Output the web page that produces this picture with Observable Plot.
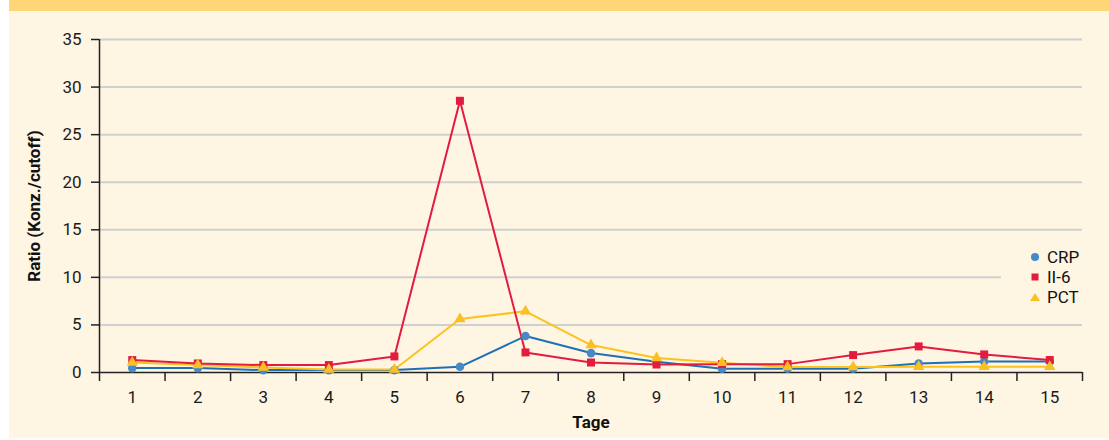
<!DOCTYPE html>
<html>
<head>
<meta charset="utf-8">
<script src="https://cdn.jsdelivr.net/npm/d3@7"></script>
<script src="https://cdn.jsdelivr.net/npm/@observablehq/plot@0.6"></script>
<style>
  html, body { margin: 0; padding: 0; background: #ffffff; }
  #wrap { position: relative; margin-left: 9px; width: 1100px; }
  #band { height: 11px; background: #ffd676; }
  #legend { position: absolute; left: 992px; top: 247px; width: 90px; background: #fef5e3;
            font-family: Roboto, sans-serif; font-size: 17px; color: #111; padding: 0 0 0 29px; box-sizing: border-box; }
  .row { height: 20px; display: flex; align-items: center; }
  .row svg { width: 10px; height: 10px; margin-right: 7px; flex: none; }
</style>
</head>
<body>
<div id="wrap">
  <div id="band"></div>
  <div id="chart"></div>
  <div id="legend"></div>
</div>
<script>
const days = [1,2,3,4,5,6,7,8,9,10,11,12,13,14,15];
const crp  = [0.46,0.46,0.25,0.25,0.25,0.60,3.83,2.04,1.13,0.39,0.39,0.39,0.95,1.16,1.16];
const il6  = [1.31,0.95,0.78,0.78,1.69,28.56,2.11,1.05,0.84,0.88,0.88,1.83,2.74,1.90,1.31];
const pct  = [1.05,0.78,0.53,0.32,0.32,5.63,6.43,2.88,1.52,1.02,0.57,0.57,0.60,0.60,0.60];
const seriesNames = ["CRP", "Il-6", "PCT"];
const legendLabels = ["CRP", "II-6", "PCT"];
const yTicks = [0,5,10,15,20,25,30,35];
const xBoundaries = [0.5,1.5,2.5,3.5,4.5,5.5,6.5,7.5,8.5,9.5,10.5,11.5,12.5,13.5,14.5,15.5];
const xLabel = "Tage";
const yLabel = "Ratio (Konz./cutoff)";

const colors = {
  CRP: {line: "#1f6fb4", mark: "#4589c8"},
  "Il-6": {line: "#e31b3f", mark: "#e31b3f"},
  PCT: {line: "#fcc21d", mark: "#fbbf22"}
};
const toRows = (vals, name) => days.map((d, i) => ({day: d, value: vals[i], series: name}));
const crpRows = toRows(crp, "CRP");
const il6Rows = toRows(il6, "Il-6");
const pctRows = toRows(pct, "PCT");

const chart = Plot.plot({
  width: 1100,
  height: 427,
  marginLeft: 90,
  marginRight: 27,
  marginTop: 28,
  marginBottom: 66,
  style: {background: "#fef5e3", fontFamily: "Roboto, sans-serif", fontSize: "17px", color: "#1a1a1a", overflow: "visible"},
  x: {type: "linear", domain: [0.5, 15.5]},
  y: {domain: [0, 35]},
  marks: [
    Plot.gridY(yTicks.filter(d => d > 0), {stroke: "#d0d0d0", strokeOpacity: 1, strokeWidth: 2}),
    Plot.axisY(yTicks, {tickSize: 8, tickPadding: 10, label: null, stroke: "#222", strokeWidth: 1.5, fontSize: 17}),
    Plot.axisX(xBoundaries, {tickSize: 9, tickFormat: () => "", label: null, stroke: "#222", strokeWidth: 1.5}),
    Plot.axisX(days, {tickSize: 0, tickPadding: 18, label: null, fontSize: 17}),
    Plot.ruleX([0.5], {stroke: "#222", strokeWidth: 1.5}),
    Plot.ruleY([0], {stroke: "#222", strokeWidth: 1.5}),
    Plot.text([xLabel], {frameAnchor: "bottom", dy: 50, lineAnchor: "middle", fontWeight: "bold", fontSize: 17, fill: "#111"}),
    Plot.text([yLabel], {frameAnchor: "left", dx: -65, rotate: -90, lineAnchor: "middle", textAnchor: "middle", fontWeight: "bold", fontSize: 17, fill: "#111"}),
    Plot.line(crpRows, {x: "day", y: "value", stroke: colors.CRP.line, strokeWidth: 2}),
    Plot.line(pctRows, {x: "day", y: "value", stroke: colors.PCT.line, strokeWidth: 2}),
    Plot.line(il6Rows, {x: "day", y: "value", stroke: colors["Il-6"].line, strokeWidth: 2}),
    Plot.dot(crpRows, {x: "day", y: "value", symbol: "circle", r: 4.3, fill: colors.CRP.mark, stroke: "none"}),
    Plot.dot(il6Rows, {x: "day", y: "value", symbol: "square", r: 4.5, fill: colors["Il-6"].mark, stroke: "none"}),
    Plot.dot(pctRows, {x: "day", y: "value", symbol: "triangle", r: 4.2, fill: colors.PCT.mark, stroke: "none"})
  ]
});
document.getElementById("chart").appendChild(chart);

const legend = document.getElementById("legend");
const shapes = {
  CRP: `<circle cx="5" cy="5" r="4" fill="${colors.CRP.mark}"/>`,
  "Il-6": `<rect x="1.5" y="1.5" width="7" height="7" fill="${colors["Il-6"].mark}"/>`,
  PCT: `<polygon points="5,1 10,9 0,9" fill="${colors.PCT.mark}"/>`
};
seriesNames.forEach((s, i) => {
  const row = document.createElement("div");
  row.className = "row";
  row.innerHTML = `<svg viewBox="0 0 10 10">${shapes[s]}</svg><span>${legendLabels[i]}</span>`;
  legend.appendChild(row);
});
</script>
</body>
</html>
